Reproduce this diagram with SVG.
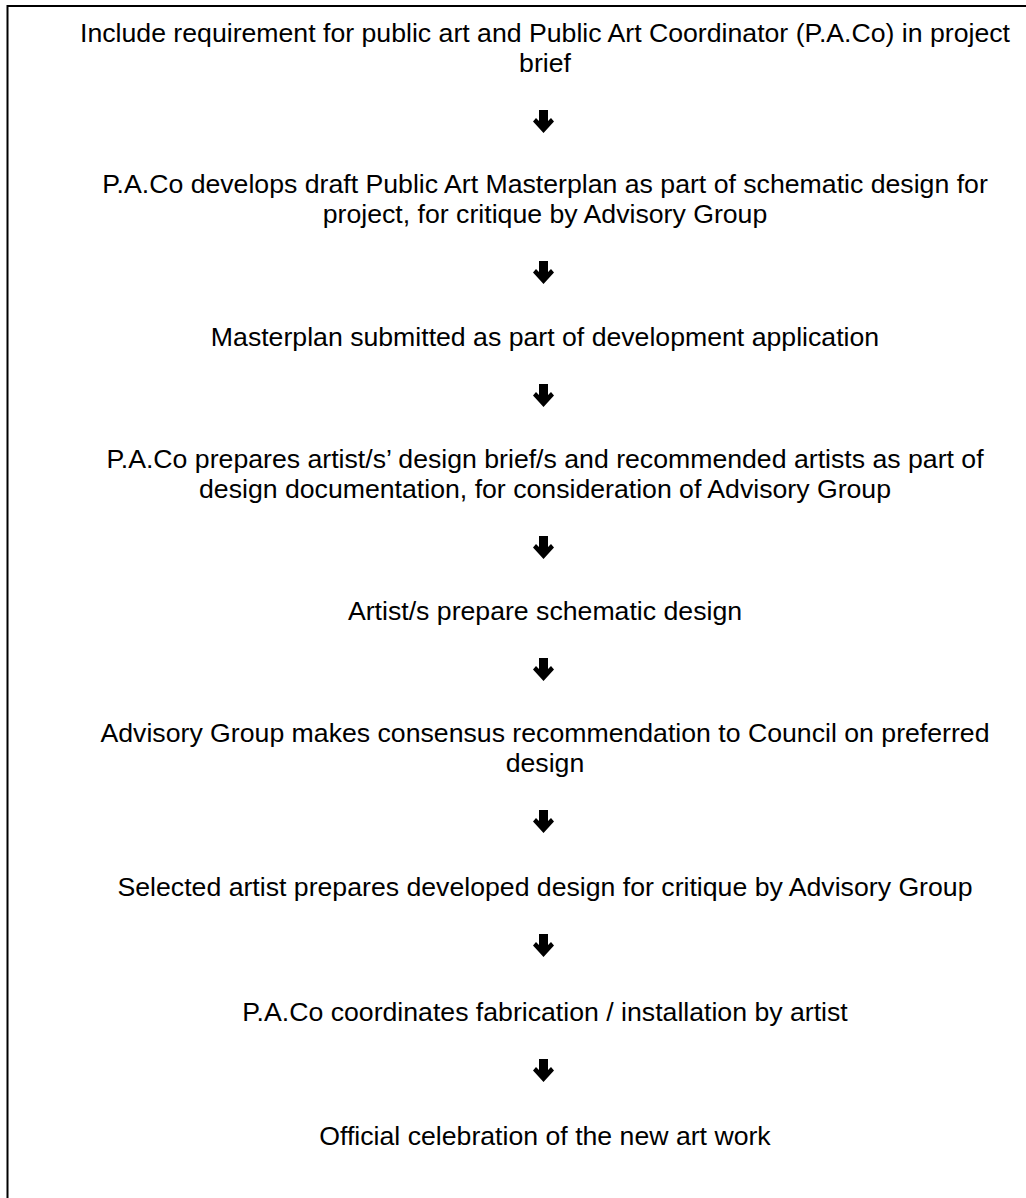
<svg xmlns="http://www.w3.org/2000/svg" width="1026" height="1198" viewBox="0 0 1026 1198">
  <style>
    .t { font-family: "Liberation Sans", Arial, sans-serif; font-size: 26.67px; fill: #000; text-anchor: middle; }
    .frame { fill: none; stroke: #000; stroke-width: 2; }
    .arr { fill: #000; stroke: none; }
  </style>
  <defs>
    <path id="arrow" d="M -4.5 -23 L 4.5 -23 L 4.5 -12 L 7.5 -15 L 10.5 -11.5 L 0 0 L -10.5 -11.5 L -7.5 -15 L -4.5 -12 Z"/>
  </defs>
  <rect width="1026" height="1198" fill="#fff"/>
  <path class="frame" d="M 7.5 1198 L 7.5 6 L 1026 6"/>

  <g id="node1">
    <text class="t" x="545" y="42">Include requirement for public art and Public Art Coordinator (P.A.Co) in project</text>
    <text class="t" x="545" y="72">brief</text>
  </g>
  <g id="node2">
    <text class="t" x="545" y="193">P.A.Co develops draft Public Art Masterplan as part of schematic design for</text>
    <text class="t" x="545" y="223">project, for critique by Advisory Group</text>
  </g>
  <g id="node3">
    <text class="t" x="545" y="346">Masterplan submitted as part of development application</text>
  </g>
  <g id="node4">
    <text class="t" x="545" y="468">P.A.Co prepares artist/s’ design brief/s and recommended artists as part of</text>
    <text class="t" x="545" y="498">design documentation, for consideration of Advisory Group</text>
  </g>
  <g id="node5">
    <text class="t" x="545" y="620">Artist/s prepare schematic design</text>
  </g>
  <g id="node6">
    <text class="t" x="545" y="742">Advisory Group makes consensus recommendation to Council on preferred</text>
    <text class="t" x="545" y="772">design</text>
  </g>
  <g id="node7">
    <text class="t" x="545" y="896">Selected artist prepares developed design for critique by Advisory Group</text>
  </g>
  <g id="node8">
    <text class="t" x="545" y="1021">P.A.Co coordinates fabrication / installation by artist</text>
  </g>
  <g id="node9">
    <text class="t" x="545" y="1145">Official celebration of the new art work</text>
  </g>

  <g id="connectors" class="arr">
    <use href="#arrow" x="543.5" y="133"/>
    <use href="#arrow" x="543.5" y="284"/>
    <use href="#arrow" x="543.5" y="407"/>
    <use href="#arrow" x="543.5" y="559"/>
    <use href="#arrow" x="543.5" y="681"/>
    <use href="#arrow" x="543.5" y="833"/>
    <use href="#arrow" x="543.5" y="957"/>
    <use href="#arrow" x="543.5" y="1082"/>
  </g>
</svg>
